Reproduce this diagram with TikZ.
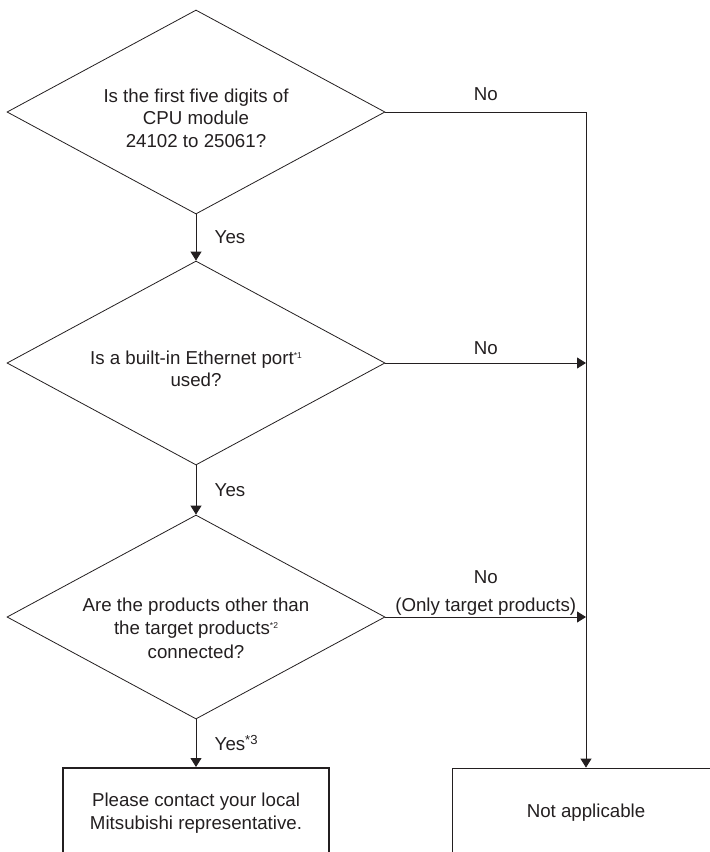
\documentclass[tikz,border=0pt]{standalone}
\usepackage{fontspec}
\setmainfont{Liberation Sans}
\usetikzlibrary{positioning,shapes.geometric,arrows.meta}
\definecolor{ink}{HTML}{231F20}
\newcommand{\smallmark}[1]{\raisebox{6pt}{\fontsize{8.5}{9}\selectfont *#1}}

\begin{document}
\begin{tikzpicture}[x=1pt,y=-1pt,
    font=\fontsize{18.7}{22.5}\selectfont, color=ink, line width=0.8pt,
    question/.style={diamond, draw, aspect=1.85, minimum width=378pt, minimum height=204pt, inner sep=0pt},
    result/.style={rectangle, draw, minimum width=266pt, minimum height=90pt, align=center},
    >={Triangle[length=9pt,width=11pt]}]
        \useasboundingbox (0,0) rectangle (710,852);
        \clip (0,0) rectangle (710,852);

        \node [question] (Q1) at (196,112) {};
        \node [on grid, below=6pt of Q1, align=center] (Q1Text) {Is the first five digits of\\CPU module\\24102 to 25061?};
        \node [on grid, below=251pt of Q1, question] (Q2) {};
        \node [on grid, below=6pt of Q2, align=center] (Q2Text) {Is a built-in Ethernet port\smallmark{1}\\used?};
        \node [on grid, below=254pt of Q2, question] (Q3) {};
        \node [on grid, below=11pt of Q3, align=center] (Q3Text) {Are the products other than\\[1pt]the target products\smallmark{2}\\[1pt]connected?};
        \node [on grid, below=196pt of Q3, result, line width=2pt] (Contact) {Please contact your local\\Mitsubishi representative.};
        \node [on grid, right=390pt of Contact, result, minimum width=268pt] (NotApp) {Not applicable};
        \coordinate (Corner) at (NotApp.north |- Q1.east);

        \draw [->] (Q1) to node [right=15pt] {Yes} (Q2);
        \draw [->] (Q2) to node [right=15pt] {Yes} (Q3);
        \draw [->] (Q3) to node [right=15pt] {Yes\textsuperscript{*3}} (Contact);

        \draw [->] (Q1.east) to node [above=8pt] {No} (Corner) to (NotApp.north);
        \draw [->] (Q2.east) to node [above=5pt] {No} (Q2.east -| Corner);
        \draw [->] (Q3.east) to node [above=-2pt, align=center] {No\\[5pt](Only target products)} (Q3.east -| Corner);
      \end{tikzpicture}
\end{document}
